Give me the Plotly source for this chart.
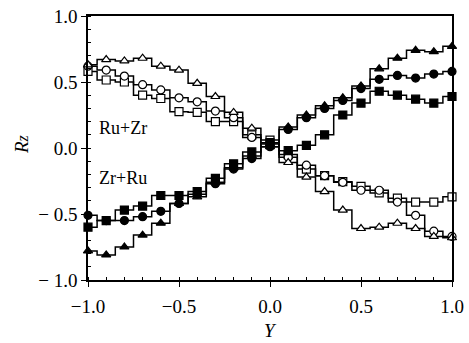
import plotly.graph_objects as go

Y = [-1.0, -0.9, -0.8, -0.7, -0.6, -0.5, -0.4, -0.3, -0.2, -0.1, 0.0,
     0.1, 0.2, 0.3, 0.4, 0.5, 0.6, 0.7, 0.8, 0.9, 1.0]

filled_triangle = [-0.78, -0.81, -0.75, -0.66, -0.57, -0.42, -0.37, -0.26, -0.15, -0.06, 0.03,
                   0.16, 0.25, 0.32, 0.38, 0.47, 0.60, 0.68, 0.74, 0.73, 0.77]
filled_circle = [-0.51, -0.55, -0.55, -0.52, -0.48, -0.42, -0.35, -0.27, -0.16, -0.08, 0.01,
                 0.14, 0.23, 0.30, 0.36, 0.45, 0.52, 0.55, 0.53, 0.56, 0.58]
filled_square = [-0.60, -0.55, -0.47, -0.44, -0.36, -0.36, -0.33, -0.23, -0.12, -0.03, 0.04,
                 -0.02, 0.02, 0.10, 0.25, 0.34, 0.43, 0.40, 0.37, 0.34, 0.39]
open_triangle = [0.63, 0.67, 0.66, 0.68, 0.62, 0.59, 0.49, 0.39, 0.27, 0.15, 0.01,
                 -0.11, -0.22, -0.33, -0.47, -0.61, -0.60, -0.57, -0.61, -0.67, -0.68]
open_circle = [0.62, 0.59, 0.545, 0.48, 0.44, 0.38, 0.35, 0.28, 0.23, 0.08, 0.04,
               -0.07, -0.13, -0.21, -0.26, -0.32, -0.32, -0.41, -0.51, -0.63, -0.67]
open_square = [0.58, 0.515, 0.50, 0.40, 0.375, 0.275, 0.27, 0.20, 0.20, 0.10, 0.06,
               -0.05, -0.16, -0.21, -0.255, -0.29, -0.34, -0.38, -0.41, -0.41, -0.37]

y_ticks = [-1.0, -0.5, 0.0, 0.5, 1.0]
y_labels = ["\u2212 1.0", "\u2212 0.5", "0.0", "0.5", "1.0"]
x_ticks = [-1.0, -0.5, 0.0, 0.5, 1.0]
x_labels = ["\u22121.0", "\u22120.5", "0.0", "0.5", "1.0"]

series = [
    (open_square, "square", "white"),
    (open_circle, "circle", "white"),
    (open_triangle, "triangle-up", "white"),
    (filled_square, "square", "black"),
    (filled_circle, "circle", "black"),
    (filled_triangle, "triangle-up", "black"),
]

FONT = "Liberation Serif"

fig = go.Figure()
for vals, sym, fill in series:
    fig.add_trace(go.Scatter(
        x=Y, y=vals, mode="lines+markers",
        line=dict(color="black", width=1.5, shape="hvh"),
        marker=dict(symbol=sym, size=8, color=fill, line=dict(color="black", width=1.2)),
        cliponaxis=False, showlegend=False, hoverinfo="skip",
    ))

fig.add_annotation(x=-0.81, y=0.15, text="Ru+Zr", showarrow=False,
                   font=dict(family=FONT, size=18, color="black"))
fig.add_annotation(x=-0.81, y=-0.23, text="Zr+Ru", showarrow=False,
                   font=dict(family=FONT, size=18, color="black"))
# axis titles as annotations for exact placement
fig.add_annotation(x=0.0, xref="x", y=0, yref="paper", yshift=-50, text="<i>Y</i>",
                   showarrow=False, yanchor="middle",
                   font=dict(family=FONT, size=19, color="black"))
fig.add_annotation(x=0, xref="paper", xshift=-67, y=0.03, yref="y",
                   text="<i>R</i><span style='font-size:16px'><i>z</i></span>",
                   showarrow=False, textangle=-90, xanchor="center",
                   font=dict(family=FONT, size=19, color="black"))

fig.update_layout(
    width=469, height=343,
    margin=dict(l=88, r=17, t=16, b=63),
    paper_bgcolor="white", plot_bgcolor="white",
    font=dict(family=FONT, size=19, color="black"),
)
fig.update_xaxes(
    range=[-1.0, 1.0], tickvals=x_ticks, ticktext=x_labels, automargin=False,
    showgrid=False, zeroline=False, showline=True, linecolor="black", linewidth=1.5,
    mirror=True, ticks="outside", ticklen=5, tickcolor="black", tickwidth=1.2,
    tickfont=dict(family=FONT, size=19), ticklabelstandoff=3, ticklabeloverflow="allow",
    minor=dict(dtick=0.1, tick0=0, ticks="inside", ticklen=3, tickcolor="black", tickwidth=1, showgrid=False),
)
fig.update_yaxes(
    range=[-1.0, 1.0], tickvals=y_ticks, ticktext=y_labels, automargin=False,
    showgrid=False, zeroline=False, showline=True, linecolor="black", linewidth=1.5,
    mirror=True, ticks="outside", ticklen=5, tickcolor="black", tickwidth=1.2,
    tickfont=dict(family=FONT, size=19), ticklabeloverflow="allow",
    minor=dict(dtick=0.1, tick0=0, ticks="inside", ticklen=3, tickcolor="black", tickwidth=1, showgrid=False),
)

# remove the default 8 px page margin so the figure sits at the window's corner
fig.write_html("out.html", config={"displayModeBar": False},
               post_script="document.body.style.margin='0px';")
